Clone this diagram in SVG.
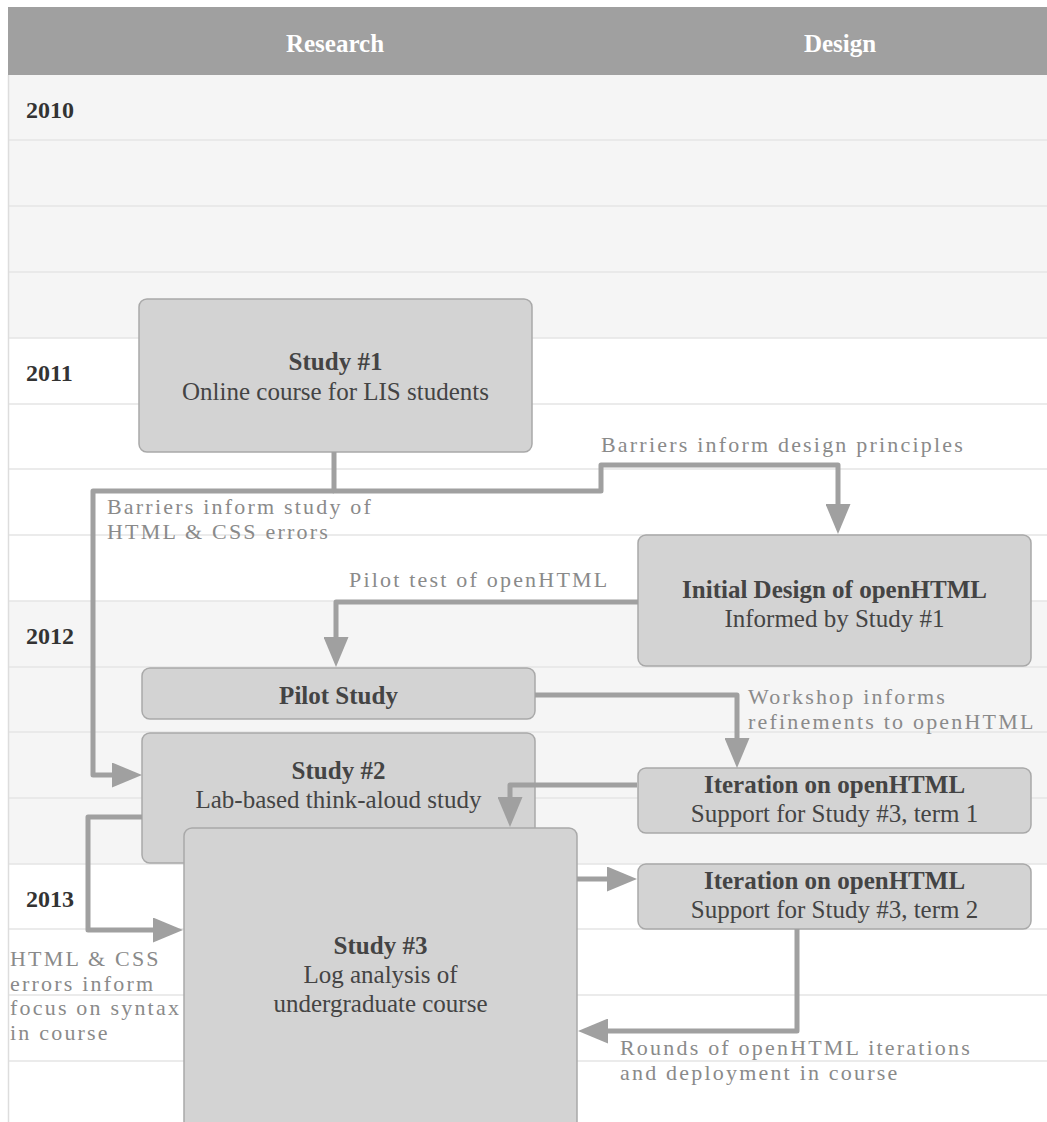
<svg xmlns="http://www.w3.org/2000/svg" width="1047" height="1122" viewBox="0 0 1047 1122">
<defs>
<style>
.bg-light{fill:#f5f5f5}
.row{stroke:#e4e4e4;stroke-width:1.5}
.hdr{font-family:"Liberation Serif",serif;font-weight:bold;font-size:25px;fill:#ffffff;text-anchor:middle}
.year{font-family:"Liberation Serif",serif;font-weight:bold;font-size:24px;fill:#333333}
.box{fill:#d3d3d3;stroke:#a9a9a9;stroke-width:1.5}
.t{font-family:"Liberation Serif",serif;font-size:25px;fill:#444444;text-anchor:middle}
.tb{font-weight:bold}
.lbl{font-family:"Liberation Serif",serif;font-size:22px;fill:#8a8a8a;letter-spacing:2.2px}
.conn{fill:none;stroke:#a0a0a0;stroke-width:5;stroke-linejoin:round;marker-end:url(#arr)}
</style>
<marker id="arr" viewBox="0 0 30 25" refX="10" refY="12.5" markerWidth="30" markerHeight="25" markerUnits="userSpaceOnUse" orient="auto">
<path d="M0,0 L30,12.5 L0,25 z" fill="#a0a0a0"/>
</marker>
</defs>
<rect x="0" y="0" width="1047" height="1122" fill="#ffffff"/>
<g id="grid">
<rect class="bg-light" x="8" y="75" width="1039" height="263"/>
<rect class="bg-light" x="8" y="601" width="1039" height="263"/>
<line class="row" x1="8" y1="140" x2="1047" y2="140"/>
<line class="row" x1="8" y1="206" x2="1047" y2="206"/>
<line class="row" x1="8" y1="272" x2="1047" y2="272"/>
<line class="row" x1="8" y1="338" x2="1047" y2="338"/>
<line class="row" x1="8" y1="404" x2="1047" y2="404"/>
<line class="row" x1="8" y1="469" x2="1047" y2="469"/>
<line class="row" x1="8" y1="535" x2="1047" y2="535"/>
<line class="row" x1="8" y1="601" x2="1047" y2="601"/>
<line class="row" x1="8" y1="667" x2="1047" y2="667"/>
<line class="row" x1="8" y1="732" x2="1047" y2="732"/>
<line class="row" x1="8" y1="798" x2="1047" y2="798"/>
<line class="row" x1="8" y1="864" x2="1047" y2="864"/>
<line class="row" x1="8" y1="929" x2="1047" y2="929"/>
<line class="row" x1="8" y1="995" x2="1047" y2="995"/>
<line class="row" x1="8" y1="1061" x2="1047" y2="1061"/>
<line x1="8.5" y1="75" x2="8.5" y2="1122" stroke="#dddddd" stroke-width="1.5"/>
<rect x="8" y="7" width="1039" height="68" fill="#a0a0a0"/>
<text class="hdr" x="335" y="52">Research</text>
<text class="hdr" x="840" y="52">Design</text>
<text class="year" x="26" y="118">2010</text>
<text class="year" x="26" y="381">2011</text>
<text class="year" x="26" y="644">2012</text>
<text class="year" x="26" y="907">2013</text>
</g>
<g id="study1">
<rect class="box" x="139" y="299" width="393" height="153" rx="8"/>
<text class="t" x="335.5" y="370"><tspan class="tb">Study #1</tspan><tspan x="335.5" dy="30">Online course for LIS students</tspan></text>
</g>
<g id="initial-design">
<rect class="box" x="638" y="535" width="393" height="131" rx="8"/>
<text class="t" x="834.5" y="598"><tspan class="tb">Initial Design of openHTML</tspan><tspan x="834.5" dy="29">Informed by Study #1</tspan></text>
</g>
<g id="pilot">
<rect class="box" x="142" y="668" width="393" height="51" rx="8"/>
<text class="t tb" x="338.5" y="704">Pilot Study</text>
</g>
<g id="study2">
<rect class="box" x="142" y="733" width="393" height="130" rx="8"/>
<text class="t" x="338.5" y="779"><tspan class="tb">Study #2</tspan><tspan x="338.5" dy="29">Lab-based think-aloud study</tspan></text>
</g>
<g id="iteration1">
<rect class="box" x="638" y="768" width="393" height="65" rx="8"/>
<text class="t" x="834.5" y="793"><tspan class="tb">Iteration on openHTML</tspan><tspan x="834.5" dy="29">Support for Study #3, term 1</tspan></text>
</g>
<g id="iteration2">
<rect class="box" x="638" y="864" width="393" height="65" rx="8"/>
<text class="t" x="834.5" y="889"><tspan class="tb">Iteration on openHTML</tspan><tspan x="834.5" dy="29">Support for Study #3, term 2</tspan></text>
</g>
<g id="study3">
<rect class="box" x="184" y="828" width="393" height="310" rx="8"/>
<text class="t" x="380.5" y="954"><tspan class="tb">Study #3</tspan><tspan x="380.5" dy="29">Log analysis of</tspan><tspan x="380.5" dy="29">undergraduate course</tspan></text>
</g>
<g id="connectors">
<path class="conn" d="M334,452 V491 H601 V465 H838 V514"/>
<path class="conn" d="M334,491 H93 V775 H122"/>
<path class="conn" d="M638,602 H336 V647"/>
<path class="conn" d="M535,695 H737 V748"/>
<path class="conn" d="M637,785 H510 V807"/>
<path class="conn" d="M142,817 H88 V930 H163"/>
<path class="conn" d="M577,879 H617"/>
<path class="conn" d="M797,929 V1031 H598"/>
<text class="lbl" x="601" y="452">Barriers inform design principles</text>
<text class="lbl" x="107" y="514">Barriers inform study of<tspan x="107" dy="24.5">HTML &amp; CSS errors</tspan></text>
<text class="lbl" x="349" y="587">Pilot test of openHTML</text>
<text class="lbl" x="748" y="704">Workshop informs<tspan x="748" dy="24.5">refinements to openHTML</tspan></text>
<text class="lbl" x="10" y="966">HTML &amp; CSS<tspan x="10" dy="24.5">errors inform</tspan><tspan x="10" dy="24.5">focus on syntax</tspan><tspan x="10" dy="24.5">in course</tspan></text>
<text class="lbl" x="620" y="1055">Rounds of openHTML iterations<tspan x="620" dy="24.5">and deployment in course</tspan></text>
</g>
</svg>
